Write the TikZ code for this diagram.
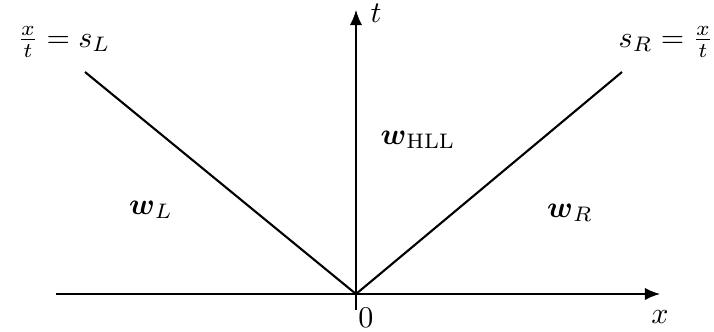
\documentclass[tikz,border=0pt]{standalone}
\usepackage{amsmath}
\usepackage{tikz}
\usetikzlibrary{arrows.meta}

\begin{document}
\begin{tikzpicture}[x=0.0117cm,y=0.0117cm,
    axis/.style={line width=0.4pt,-{Latex[length=5pt,width=4pt]}},
    wave/.style={line width=0.7pt}]
  \useasboundingbox (-356,-37) rectangle (358,294);
  \coordinate (origin) at (0,0);
  \coordinate (xstart) at (-300,0);
  \coordinate (xend) at (304,0);
  \coordinate (tstart) at (0,-16);
  \coordinate (tend) at (0,284);
  \coordinate (sl) at (-271,222);
  \coordinate (sr) at (266,222);
  \draw[axis] (xstart) -- (xend);
  \draw[axis] (tstart) -- (tend);
  \draw[wave] (origin) -- (sl);
  \draw[wave] (origin) -- (sr);
  \node (tlabel) at (20,281) {$t$};
  \node (xlabel) at (304,-23) {$x$};
  \node (zero) at (10,-24) {$0$};
  \node (sLlabel) at (-292,252) {$\frac{x}{t} = s_L$};
  \node (sRlabel) at (310,252) {$s_R = \frac{x}{t}$};
  \node (wHLL) at (62,154) {$\boldsymbol{w}_{\mathrm{HLL}}$};
  \node (wL) at (-205,84) {$\boldsymbol{w}_L$};
  \node (wR) at (214,81) {$\boldsymbol{w}_R$};
\end{tikzpicture}
\end{document}
